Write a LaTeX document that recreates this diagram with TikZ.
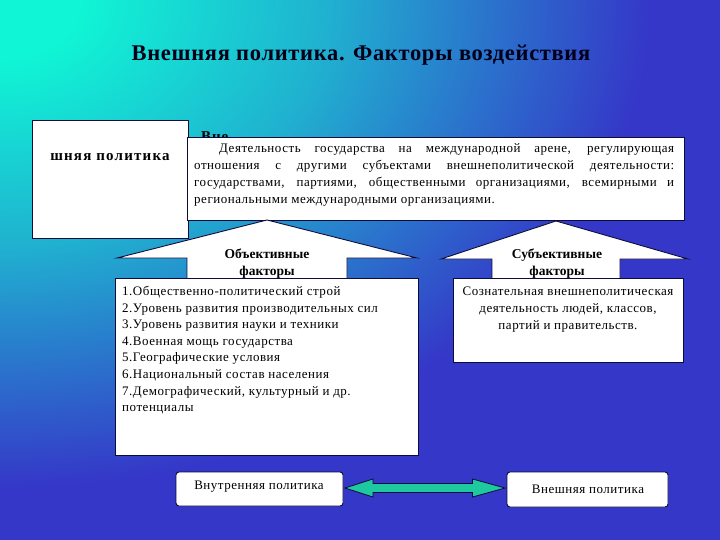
\documentclass[tikz,border=0pt]{standalone}
\usepackage{fontspec}
\setmainfont{Liberation Serif}
\usetikzlibrary{calc}
\definecolor{cA}{RGB}{16,245,213}
\definecolor{cM}{RGB}{32,176,208}
\definecolor{cB}{RGB}{53,55,200}
\definecolor{edge}{RGB}{12,12,60}
\definecolor{arrowfill}{RGB}{31,201,160}
\pgfdeclareradialshading{bgshade}{\pgfpoint{0pt}{0pt}}{color(0pt)=(cA); color(80pt)=(cA); color(330pt)=(cM); color(650pt)=(cB); color(1500pt)=(cB)}
\tikzset{
  wbox/.style={draw=edge, fill=white, line width=0.9pt, inner sep=0pt},
  upshape/.style={draw=edge, fill=white, line width=0.9pt, line join=miter},
  txt/.style={inner sep=0pt, font=\fontsize{13}{16.6}\selectfont\addfontfeature{LetterSpace=4}},
  head/.style={inner sep=0pt, align=center, font=\bfseries\fontsize{13.5}{17}\selectfont},
}
\begin{document}
\begin{tikzpicture}[x=1pt,y=-1pt]
\useasboundingbox (0,0) rectangle (720,540);
\begin{scope}
  \clip (0,0) rectangle (720,540);
  \begin{scope}[yscale=0.75]
    \pgflowlevelsynccm
    \pgfuseshading{bgshade}
  \end{scope}
\end{scope}

% title
\node[inner sep=0pt, font=\bfseries\fontsize{22.5}{26}\selectfont\addfontfeature{LetterSpace=3}, text=black!90!blue] (title) at (361,55) {Внешняя политика. Факторы воздействия};

% left partial box
\node[wbox, anchor=north west, minimum width=156pt, minimum height=118pt] (lbox) at (32,120) {};
\node[inner sep=0pt, font=\bfseries\fontsize{15}{18}\selectfont\addfontfeature{LetterSpace=8}] (ltext) at (110,157) {шняя политика};

% partially hidden heading
\node[inner sep=0pt, anchor=base west, font=\bfseries\fontsize{15}{18}\selectfont\addfontfeature{LetterSpace=6}] (vne) at (201,142) {Вне};

% definition box
\node[wbox, anchor=north west, minimum width=497pt, minimum height=83pt] (defbox) at (187,137) {};
\node[inner sep=0pt, anchor=north west, text width=480pt, align=justify, font=\fontsize{13}{17}\selectfont\addfontfeature{LetterSpace=4}] (deftext) at (194,143)
{\hspace*{25pt}Деятельность государства на международной арене, регулирующая\linebreak отношения с другими субъектами внешнеполитической деятельности:\linebreak государствами, партиями, общественными организациями, всемирными и\linebreak региональными международными организациями.};

% objective arrow shape
\draw[upshape] (187,279) -- (187,258) -- (117,258) -- (267,220) -- (417,258) -- (347,258) -- (347,279);
\node[head] (objh) at (267,264) {Объективные\\факторы};

% subjective arrow shape
\draw[upshape] (492,279) -- (492,259) -- (441,259) -- (556,221) -- (688,259) -- (620,259) -- (620,279);
\node[head] (subh) at (557,264) {Субъективные\\факторы};

% list box
\node[wbox, anchor=north west, minimum width=303pt, minimum height=177pt] (objbox) at (115,278) {};
\node[txt, anchor=north west, align=left] (objtext) at (122,286)
{1.Общественно-политический строй\\
2.Уровень развития производительных сил\\
3.Уровень развития науки и техники\\
4.Военная мощь государства\\
5.Географические условия\\
6.Национальный состав населения\\
7.Демографический, культурный и др.\\
потенциалы};

% subjective box
\node[wbox, anchor=north west, minimum width=230pt, minimum height=84pt] (subbox) at (453,278) {};
\node[txt, anchor=north, align=center] (subtext) at (568,287)
{Сознательная внешнеполитическая\\деятельность людей, классов,\\партий и правительств.};

% bottom boxes
\node[wbox, rounded corners=3pt, minimum width=167pt, minimum height=34pt] (inner) at (259.5,489) {};
\node[txt] at (259,487) {Внутренняя политика};
\node[wbox, rounded corners=3pt, minimum width=161pt, minimum height=35pt] (outer) at (587.5,489.5) {};
\node[txt] at (588,489) {Внешняя политика};

% double arrow between the bottom boxes
\draw[draw=edge, fill=arrowfill, line width=0.8pt, line join=miter]
  ($(inner.east)+(1.5,-1)$) -- ++(28,-9) -- ++(0,4.5) -- ($(outer.west)+(-34,-6)$) -- ++(0,-4.5) -- ($(outer.west)+(-1.5,-1.5)$)
  -- ($(outer.west)+(-34,7.5)$) -- ++(0,-4.5) -- ($(inner.east)+(29.5,3.5)$) -- ++(0,4.5) -- cycle;
\end{tikzpicture}
\end{document}
